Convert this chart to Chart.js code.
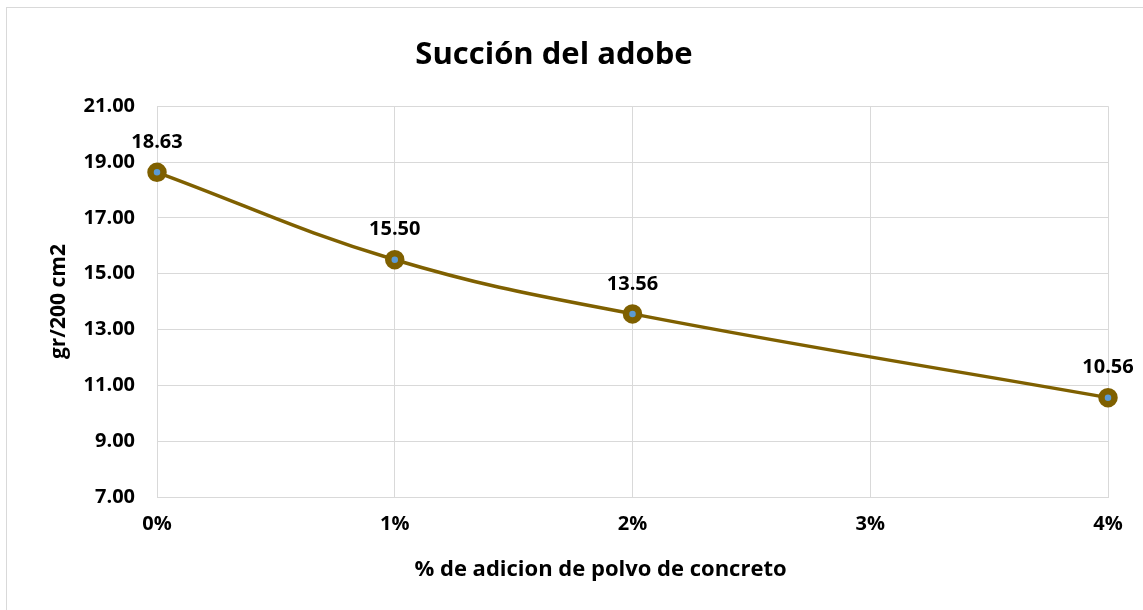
<!DOCTYPE html>
<html>
<head>
<meta charset="utf-8">
<script src="https://cdn.jsdelivr.net/npm/chart.js@4.4.0/dist/chart.umd.min.js"></script>
<style>
  html, body { margin: 0; padding: 0; background: #fff; }
  #wrap { position: relative; width: 1143px; height: 610px; overflow: hidden; }
  #frame { position: absolute; left: 6px; top: 7px; width: 1200px; height: 700px; border: 1px solid #d9d9d9; box-sizing: border-box; }
  canvas { position: absolute; left: 0; top: 0; }
</style>
</head>
<body>
<div id="wrap">
  <div id="frame"></div>
  <canvas id="chart" width="1143" height="610"></canvas>
</div>
<script>
const xValues = [0, 1, 2, 4];          // % de adicion
const succion = [18.63, 15.50, 13.56, 10.56];
const xTicks = [0, 1, 2, 3, 4];
const yMin = 7, yMax = 21, yStep = 2;
const xTitle = '% de adicion de polvo de concreto';

const FONT = "'Open Sans', sans-serif";
const lineColor = '#7F6000';
const dotColor = '#5B9BD5';

// labels above each point + x axis title (Excel puts it a bit left of the plot centre)
const valueLabels = {
  id: 'valueLabels',
  afterDatasetsDraw(chart) {
    const ctx = chart.ctx;
    const meta = chart.getDatasetMeta(0);
    ctx.save();
    ctx.font = 'bold 20px ' + FONT;
    ctx.fillStyle = '#000';
    ctx.textAlign = 'center';
    ctx.textBaseline = 'middle';
    meta.data.forEach((pt, i) => {
      ctx.fillText(succion[i].toFixed(2), pt.x, pt.y - 30);
    });
    const xs = chart.scales.x;
    ctx.font = 'bold 22px ' + FONT;
    ctx.fillText(xTitle, (xs.left + xs.right) / 2 - 32, xs.bottom - 40);
    ctx.restore();
  }
};

new Chart(document.getElementById('chart'), {
  type: 'line',
  data: {
    datasets: [{
      data: xValues.map((x, i) => ({ x: x, y: succion[i] })),
      borderColor: lineColor,
      borderWidth: 3.5,
      tension: 0.4,
      pointRadius: 6.5,
      pointBorderWidth: 6.5,
      pointBackgroundColor: dotColor,
      pointBorderColor: lineColor,
      clip: false
    }]
  },
  options: {
    responsive: false,
    animation: false,
    layout: { padding: { left: 0, right: 35, top: 0, bottom: 0 } },
    plugins: {
      legend: { display: false },
      tooltip: { enabled: false },
      title: {
        display: true,
        text: 'Succión del adobe',
        color: '#000',
        font: { family: FONT, size: 31, weight: 'bold', lineHeight: 1.2 },
        padding: { top: 37, bottom: 32 }
      }
    },
    scales: {
      x: {
        type: 'linear',
        min: 0,
        max: 4,
        afterBuildTicks: s => { s.ticks = xTicks.map(v => ({ value: v })); },
        afterFit: s => { s.height = 113; },
        grid: { color: '#d9d9d9', lineWidth: 1, drawTicks: false },
        border: { color: '#d9d9d9' },
        ticks: {
          padding: 15,
          color: '#000',
          font: { family: FONT, size: 20, weight: 'bold' },
          callback: v => v + '%'
        }
      },
      y: {
        min: yMin,
        max: yMax,
        afterFit: s => { s.width = 157; },
        grid: { color: '#d9d9d9', lineWidth: 1, drawTicks: false },
        border: { display: false },
        ticks: {
          stepSize: yStep,
          padding: 22,
          color: '#000',
          font: { family: FONT, size: 20, weight: 'bold' },
          callback: v => v.toFixed(2)
        },
        title: {
          display: true,
          text: 'gr/200 cm2',
          color: '#000',
          font: { family: FONT, size: 21, weight: 'bold', lineHeight: 1.2 },
          padding: { top: 46, bottom: 0 }
        }
      }
    }
  },
  plugins: [valueLabels]
});
</script>
</body>
</html>
